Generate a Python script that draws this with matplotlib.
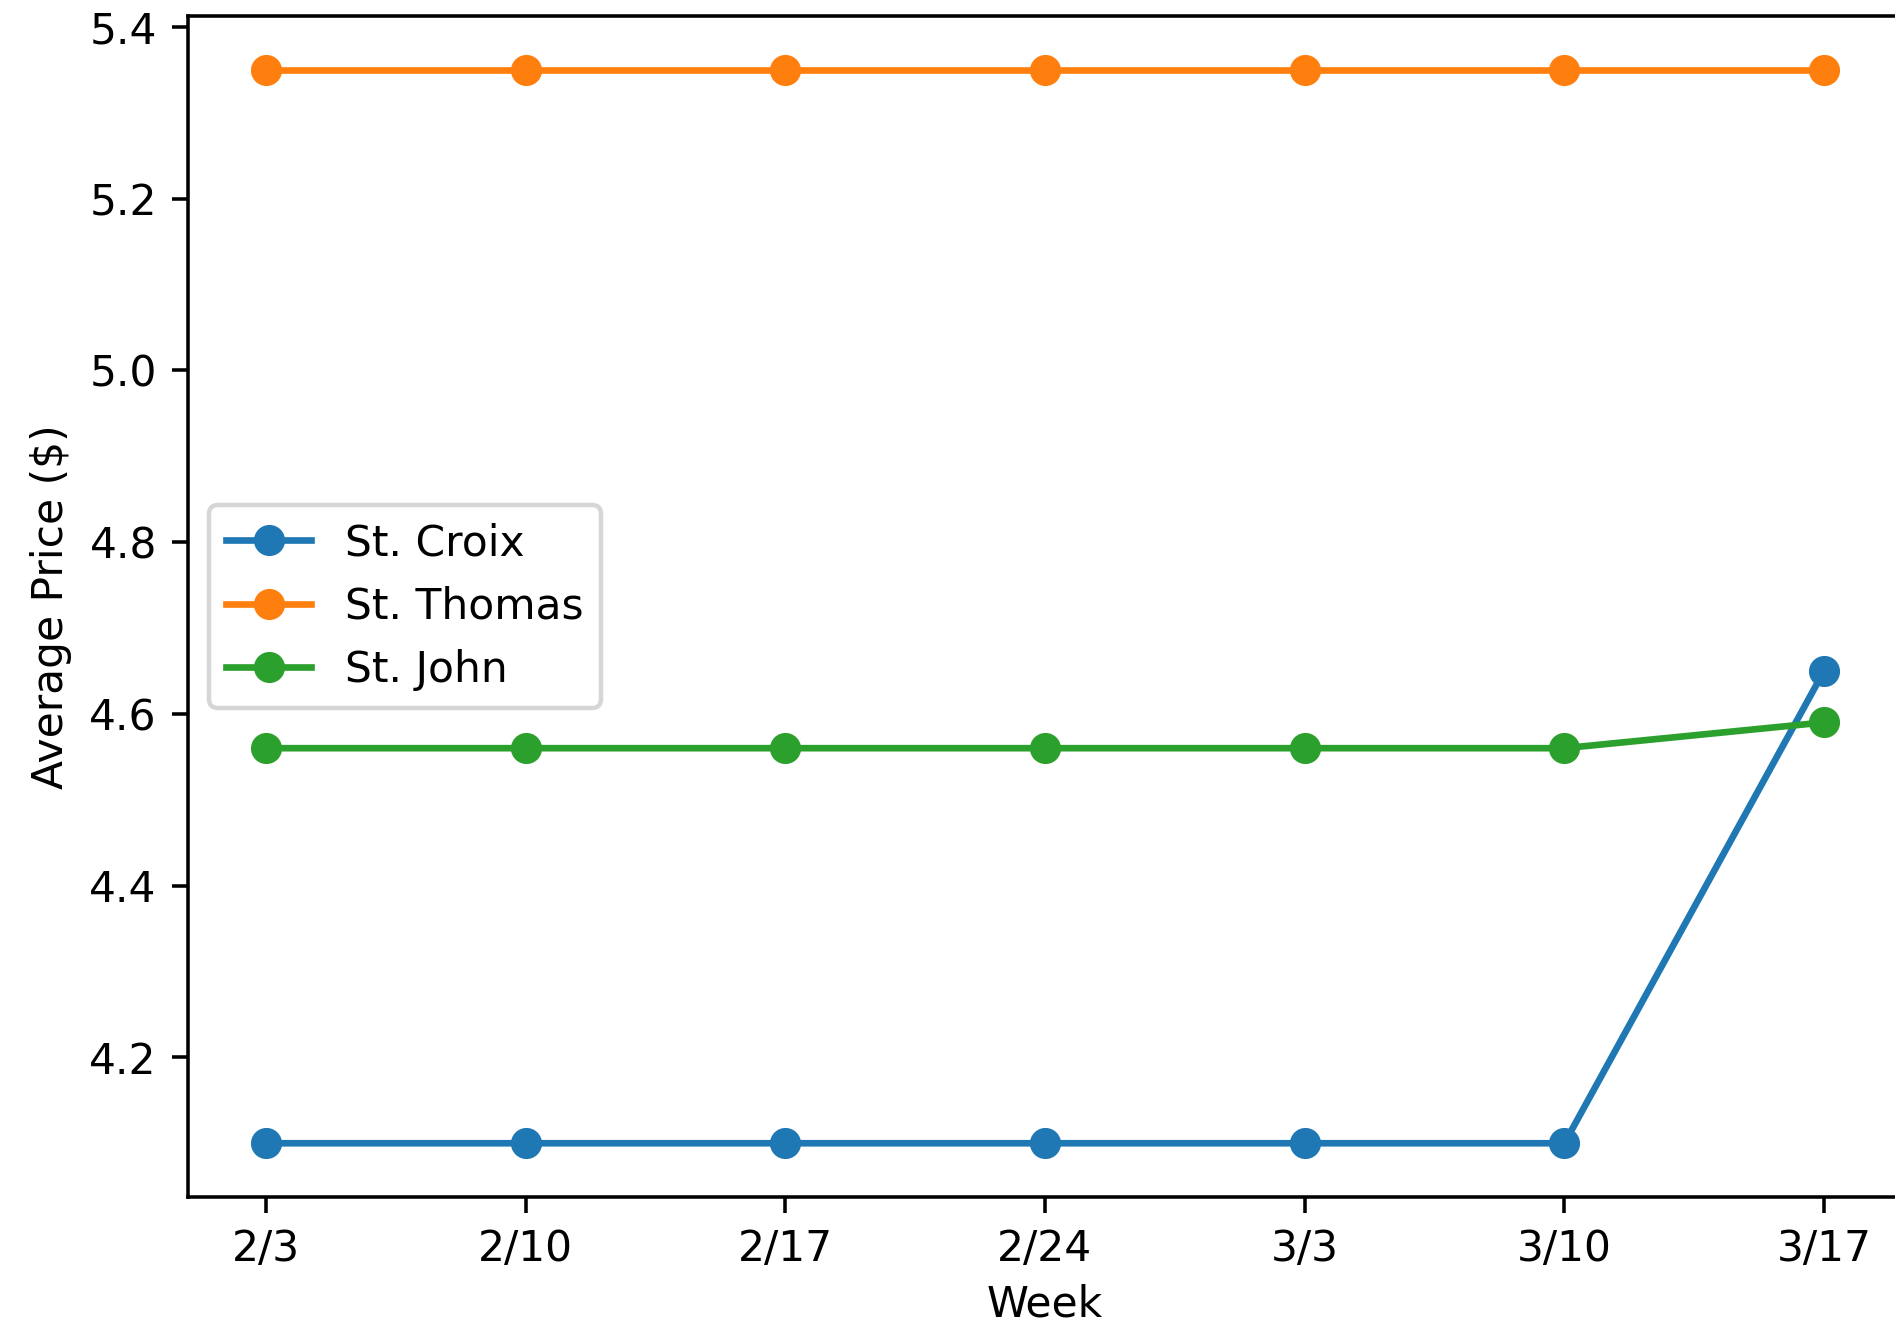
import matplotlib
matplotlib.use("Agg")
from matplotlib import pyplot as plt

weeks = ["2/3", "2/10", "2/17", "2/24", "3/3", "3/10", "3/17"]
st_croix = [4.10, 4.10, 4.10, 4.10, 4.10, 4.10, 4.65]
st_thomas = [5.35, 5.35, 5.35, 5.35, 5.35, 5.35, 5.35]
st_john = [4.56, 4.56, 4.56, 4.56, 4.56, 4.56, 4.59]

plt.rcParams["font.size"] = 9.55

fig = plt.figure(figsize=(1895 / 320, 1322 / 320), dpi=320)
ax = fig.add_axes([0.0992, 0.0946, 0.9045, 0.8933])

ax.plot(weeks, st_croix, marker="o", label="St. Croix")
ax.plot(weeks, st_thomas, marker="o", label="St. Thomas")
ax.plot(weeks, st_john, marker="o", label="St. John")

ax.set_xlabel("Week", labelpad=3)
ax.set_ylabel("Average Price ($)")
ax.legend(loc="center left")

fig.savefig("out.png", dpi=320)
